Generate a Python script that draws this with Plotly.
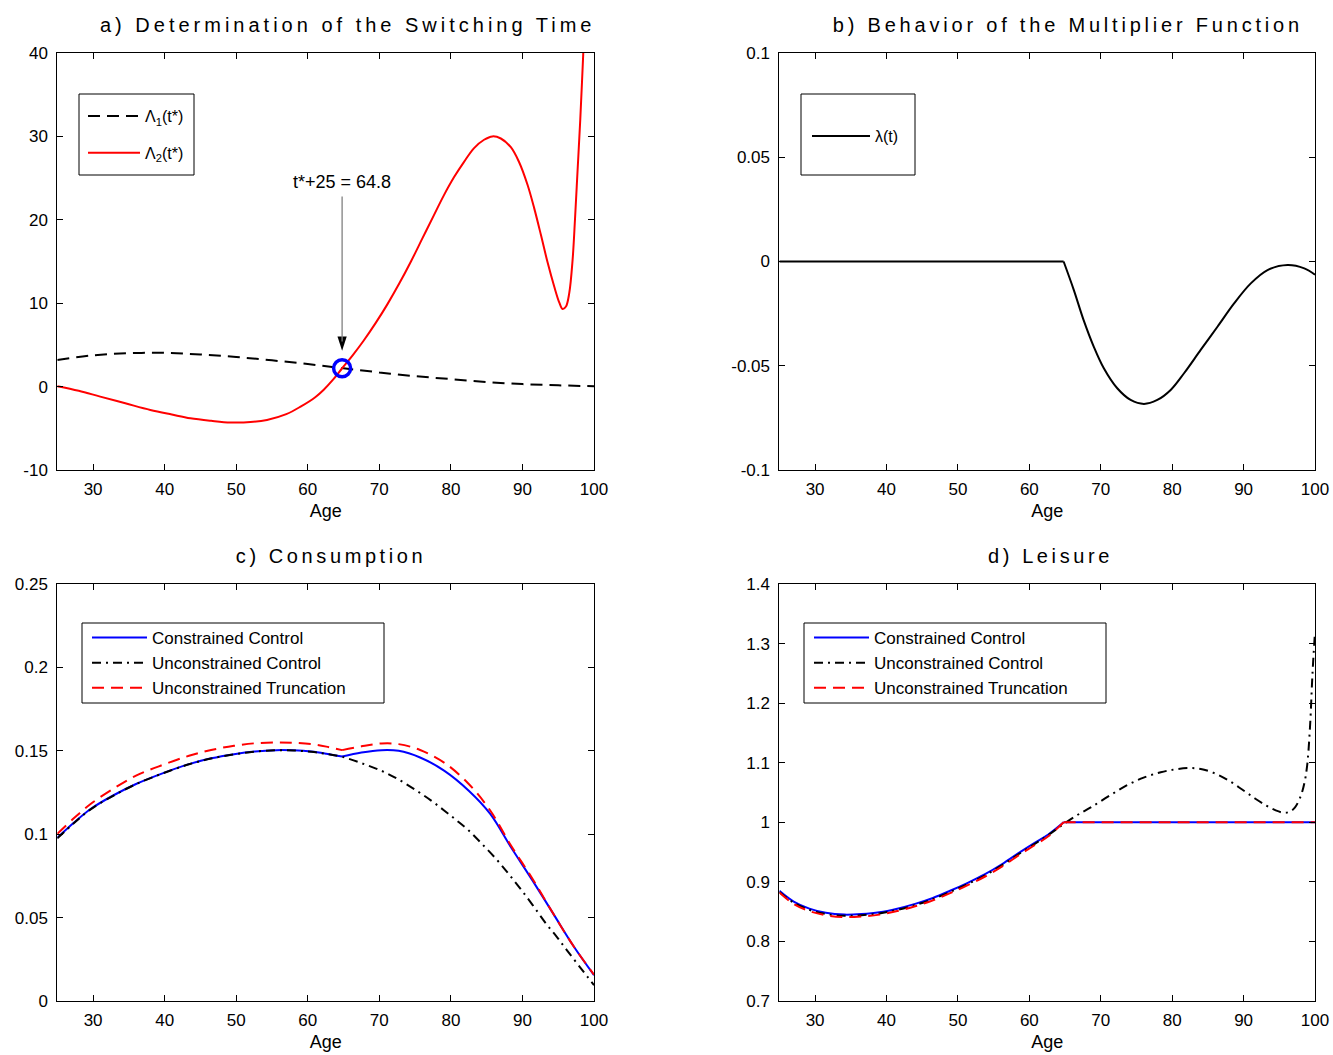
import plotly.graph_objects as go

W, H = 1333, 1055
FONT = "Liberation Sans, Arial, Helvetica, sans-serif"

# ---------------- data ----------------
age_ticks = [30, 40, 50, 60, 70, 80, 90, 100]
switch_age = 64.8
switch_val = 2.2

# a) Determination of the switching time
lam1_age = [25, 30, 35, 40, 45, 50, 55, 60, 65, 70, 75, 80, 85, 90, 95, 100]
lam1_val = [3.2, 3.75, 4.0, 4.05, 3.85, 3.55, 3.15, 2.7, 2.2, 1.7, 1.25, 0.9, 0.55, 0.3, 0.15, 0.05]

lam2_age = [25, 28, 31, 34.5, 38, 41, 43.6, 46.5, 49.2, 52, 54.3, 57, 59, 61, 62.2, 63.5, 64.8,
            66.3, 67.8, 69.5, 71.1, 72.8, 74.4, 76.0, 77.6, 79.0, 80.45, 81.84, 83.24, 84.64, 85.8,
            86.98, 88.38, 89.54, 90.71, 91.64, 92.58, 93.51, 94.44, 95.14, 95.61, 96.08, 96.54,
            97.01, 97.34, 97.71, 98.08, 98.45, 98.8]
lam2_val = [0.05, -0.5, -1.2, -2.0, -2.8, -3.35, -3.8, -4.1, -4.3, -4.25, -4.0, -3.3, -2.4, -1.3, -0.4, 0.8, 2.2,
            3.78, 5.5, 7.64, 9.83, 12.38, 14.97, 17.74, 20.5, 22.9, 25.12, 26.95, 28.6, 29.6, 30.0,
            29.75, 28.7, 26.9, 24.2, 21.4, 18.2, 14.9, 12.0, 10.1, 9.3, 9.6, 11.2,
            15.2, 20.0, 26.0, 32.0, 39.0, 46.0]

# b) Multiplier function
mult_age = [25, 35, 45, 55, 64.8, 66.23, 67.6, 69.03, 70.43, 72.31, 74.18, 76.05, 77.92, 79.79,
            81.66, 83.99, 86.34, 88.67, 91.01, 93.35, 96.16, 98.5, 100]
mult_val = [0, 0, 0, 0, 0, -0.0137, -0.0281, -0.0409, -0.0512, -0.0608, -0.0664, -0.0683, -0.0664,
            -0.0616, -0.0536, -0.0424, -0.0313, -0.0201, -0.0105, -0.0041, -0.0017, -0.0033, -0.0063]

# c) Consumption
cons_age = [25, 27.3, 29.65, 32.8, 36.0, 39.7, 43.4, 46.5, 49.7, 52.6, 55.6, 58, 60.5, 62.6, 64.8,
            67.5, 70.3, 72.7, 75.7, 79.1, 82.5, 85.5, 88.4, 91.4, 94.3, 97.2, 100]
cons_con = [0.0978, 0.1068, 0.1151, 0.1232, 0.1301, 0.1365, 0.1420, 0.1455, 0.1480, 0.1496, 0.1504,
            0.1503, 0.1496, 0.1483, 0.1466, 0.1490, 0.1504, 0.1500, 0.1460, 0.1380, 0.1261, 0.1122,
            0.0922, 0.0723, 0.0524, 0.0325, 0.0155]
cons_trunc = [0.1002, 0.1095, 0.1181, 0.1272, 0.1351, 0.1415, 0.1470, 0.1505, 0.1530, 0.1545, 0.1550,
              0.1548, 0.1540, 0.1525, 0.1504, 0.1527, 0.1544, 0.1540, 0.1505, 0.1428, 0.1301, 0.1142,
              0.0932, 0.0733, 0.0524, 0.0325, 0.0158]
cons_unc_age = [25, 27.3, 29.65, 32.8, 36.0, 39.7, 43.4, 46.5, 49.7, 52.6, 55.6, 58, 60.5, 62.6, 64.8,
                67.5, 70.3, 72.8, 75.2, 77.2, 79.1, 80.8, 82.5, 84.5, 86.5, 88.2, 89.9, 91.6, 93.3,
                94.8, 96.2, 98, 100]
cons_unc = [0.0975, 0.1066, 0.1149, 0.1230, 0.1300, 0.1364, 0.1419, 0.1454, 0.1479, 0.1495, 0.1503,
            0.1502, 0.1494, 0.1481, 0.1464, 0.1426, 0.1380, 0.1325, 0.1261, 0.1203, 0.1141, 0.1083,
            0.1022, 0.0935, 0.0843, 0.0755, 0.0663, 0.0565, 0.0464, 0.0385, 0.0305, 0.0205, 0.0095]

# d) Leisure
leis_age = [25, 27, 29.2, 31.5, 34.1, 36.5, 39.0, 41.5, 44.0, 46.5, 48.9, 51.3, 53.8, 56.2, 58.7,
            60.8, 62.7, 64.8, 70, 80, 90, 100]
leis_con = [0.885, 0.867, 0.855, 0.848, 0.845, 0.846, 0.849, 0.855, 0.863, 0.873, 0.885, 0.898, 0.913,
            0.930, 0.950, 0.966, 0.980, 1.0, 1.0, 1.0, 1.0, 1.0]
leis_trunc = [0.882, 0.863, 0.851, 0.844, 0.841, 0.842, 0.845, 0.851, 0.859, 0.869, 0.881, 0.894, 0.909,
              0.926, 0.946, 0.962, 0.977, 1.0, 1.0, 1.0, 1.0, 1.0]
leis_unc_age = [25, 27, 29.2, 31.5, 34.1, 36.5, 39.0, 41.5, 44.0, 46.5, 48.9, 51.3, 53.8, 56.2, 58.7,
                60.8, 62.7, 64.8, 66.7, 68.6, 71, 73.5, 76, 78.4, 80.5, 82.4, 84, 85.8, 87.8, 89.8,
                91.6, 93.2, 94.5, 95.7, 96.5, 97.2, 98.0, 98.5, 98.9, 99.3, 99.65, 100]
leis_unc = [0.883, 0.865, 0.853, 0.846, 0.843, 0.844, 0.847, 0.853, 0.861, 0.871, 0.883, 0.896, 0.911,
            0.928, 0.948, 0.964, 0.979, 0.997, 1.012, 1.025, 1.043, 1.061, 1.075, 1.084, 1.089, 1.091,
            1.0895, 1.083, 1.071, 1.055, 1.040, 1.028, 1.020, 1.016, 1.018, 1.025, 1.044, 1.065, 1.095,
            1.16, 1.25, 1.32]

titles = ["a) Determination of the Switching Time", "b) Behavior of the Multiplier Function",
          "c) Consumption", "d) Leisure"]
names = ["Constrained Control", "Unconstrained Control", "Unconstrained Truncation"]

# ---------------- figure ----------------
fig = go.Figure()


def split(ages, vals, kinks):
    segs, cx, cy = [], [], []
    for a, v in zip(ages, vals):
        cx.append(a)
        cy.append(v)
        if a in kinks:
            if len(cx) > 1:
                segs.append((cx, cy))
            cx, cy = [a], [v]
    if len(cx) > 1:
        segs.append((cx, cy))
    return segs


def add_series(ages, vals, name, color, dash, xa, ya, legend, kinks=(), width=2):
    for i, (sx, sy) in enumerate(split(ages, vals, kinks)):
        flat = all(abs(v - sy[0]) < 1e-12 for v in sy)
        fig.add_trace(go.Scatter(
            x=sx, y=sy, mode="lines", name=name, legendgroup=name + legend,
            showlegend=(i == 0), legend=legend, hoverinfo="skip",
            line=dict(color=color, dash=dash, width=width,
                      shape="linear" if flat else "spline", smoothing=1.0),
            xaxis=xa, yaxis=ya))


DASH = "12px,7px"
DASHDOT = "9px,5px,2px,5px"

add_series(lam1_age, lam1_val, "Λ<sub>1</sub>(t*)", "black", DASH, "x", "y", "legend")
add_series(lam2_age, lam2_val, "Λ<sub>2</sub>(t*)", "#FF0000", "solid", "x", "y", "legend")
fig.add_trace(go.Scatter(x=[switch_age], y=[switch_val], mode="markers", showlegend=False,
                         hoverinfo="skip",
                         marker=dict(symbol="circle-open", size=17, color="#0000FF",
                                     line=dict(width=3.5, color="#0000FF")),
                         xaxis="x", yaxis="y"))
# arrow head of the switching-time pointer
fig.add_trace(go.Scatter(x=[switch_age], y=[4.3], mode="markers", showlegend=False,
                         hoverinfo="skip",
                         marker=dict(symbol="arrow", angle=180, size=15, color="black",
                                     line=dict(width=0)),
                         xaxis="x", yaxis="y"))

add_series(mult_age, mult_val, "λ(t)", "black", "solid", "x2", "y2", "legend2", kinks=(switch_age,))

add_series(cons_age, cons_con, names[0], "#0000FF", "solid", "x3", "y3", "legend3", kinks=(switch_age,))
add_series(cons_unc_age, cons_unc, names[1], "black", DASHDOT, "x3", "y3", "legend3")
add_series(cons_age, cons_trunc, names[2], "#FF0000", DASH, "x3", "y3", "legend3", kinks=(switch_age,))

add_series(leis_age, leis_con, names[0], "#0000FF", "solid", "x4", "y4", "legend4", kinks=(switch_age,))
add_series(leis_unc_age, leis_unc, names[1], "black", DASHDOT, "x4", "y4", "legend4")
add_series(leis_age, leis_trunc, names[2], "#FF0000", DASH, "x4", "y4", "legend4", kinks=(switch_age,))

xl = [57.3 / W, 594 / W]
xr = [779.4 / W, 1315 / W]
yt = [1 - 470 / H, 1 - 53 / H]
yb = [1 - 1001 / H, 1 - 584 / H]


def ax_style(**kw):
    d = dict(showline=True, linecolor="black", linewidth=1, mirror="ticks", ticks="inside",
             ticklen=6, tickwidth=1, tickcolor="black", showgrid=False, zeroline=False,
             automargin=False, fixedrange=True,
             tickfont=dict(size=17, color="black", family=FONT))
    d.update(kw)
    return d


def xax(domain, anchor):
    return ax_style(domain=domain, anchor=anchor, range=[25, 100], tickvals=age_ticks,
                    ticktext=[str(t) for t in age_ticks], ticklabelstandoff=4,
                    title=dict(text="Age", font=dict(size=18, color="black", family=FONT), standoff=5))


y_a_ticks = [-10, 0, 10, 20, 30, 40]
y_b_ticks = [-0.1, -0.05, 0, 0.05, 0.1]
y_b_text = ["-0.1", "-0.05", "0", "0.05", "0.1"]
y_c_ticks = [0, 0.05, 0.1, 0.15, 0.2, 0.25]
y_c_text = ["0", "0.05", "0.1", "0.15", "0.2", "0.25"]
y_d_ticks = [0.7, 0.8, 0.9, 1.0, 1.1, 1.2, 1.3, 1.4]
y_d_text = ["0.7", "0.8", "0.9", "1", "1.1", "1.2", "1.3", "1.4"]

fig.update_layout(
    width=W, height=H, autosize=False,
    margin=dict(l=0, r=0, t=0, b=0, pad=0, autoexpand=False),
    paper_bgcolor="white", plot_bgcolor="white",
    font=dict(family=FONT, color="black"),
    xaxis=xax(xl, "y"), xaxis2=xax(xr, "y2"), xaxis3=xax(xl, "y3"), xaxis4=xax(xr, "y4"),
    yaxis=ax_style(domain=yt, anchor="x", range=[-10, 40], tickvals=y_a_ticks,
                   ticktext=[str(t) for t in y_a_ticks], ticklabelstandoff=5),
    yaxis2=ax_style(domain=yt, anchor="x2", range=[-0.1, 0.1], tickvals=y_b_ticks,
                    ticktext=y_b_text, ticklabelstandoff=5),
    yaxis3=ax_style(domain=yb, anchor="x3", range=[0, 0.25], tickvals=y_c_ticks,
                    ticktext=y_c_text, ticklabelstandoff=5),
    yaxis4=ax_style(domain=yb, anchor="x4", range=[0.7, 1.4], tickvals=y_d_ticks,
                    ticktext=y_d_text, ticklabelstandoff=5),
)


# legends (plotly legends, placed inside MATLAB-like boxes)
def leg(xpx, ytop, itemw, size, gap=0):
    return dict(x=xpx / W, y=1 - ytop / H, xanchor="left", yanchor="top", bgcolor="rgba(0,0,0,0)",
                borderwidth=0, itemwidth=itemw, tracegroupgap=gap,
                font=dict(size=size, color="black", family=FONT))


fig.update_layout(
    legend=leg(83, 99, 52, 16, gap=13),
    legend2=leg(807, 119, 58, 16),
    legend3=leg(87, 620, 55, 17),
    legend4=leg(809, 620, 55, 17),
)

boxes = [(79, 94, 194, 175), (801, 94, 915, 175), (82, 623, 384, 703), (804, 623, 1106, 703)]
for (x0, y0, x1, y1) in boxes:
    fig.add_shape(type="rect", xref="paper", yref="paper", x0=x0 / W, x1=x1 / W,
                  y0=1 - y0 / H, y1=1 - y1 / H, line=dict(color="black", width=1),
                  fillcolor="white", layer="above")

# titles
title_pos = [(348, 25), (1068, 25), (331, 556), (1050, 556)]
title_spacing = ["4.0px", "3.8px", "3.6px", "3.6px"]
for t, (cx, cy) in zip(titles, title_pos):
    fig.add_annotation(text=t, xref="paper", yref="paper", x=cx / W, y=1 - cy / H,
                       xanchor="center", yanchor="middle", showarrow=False,
                       font=dict(size=20, color="black", family=FONT))

# switching time annotation
fig.add_annotation(text="t*+25 = 64.8", x=switch_age, y=24.5, xref="x", yref="y",
                   showarrow=False, xanchor="center", yanchor="middle",
                   font=dict(size=18, color="black", family=FONT))
fig.add_shape(type="line", xref="x", yref="y", x0=switch_age, x1=switch_age, y0=22.8, y1=5.4,
              line=dict(color="#808080", width=1.3))

post = """
document.body.style.margin='0';
document.body.style.overflow='hidden';
var gd=document.getElementById('{plot_id}');
var sp={'a':'%s','b':'%s','c':'%s','d':'%s'};
gd.querySelectorAll('.annotation-text').forEach(function(t){
  var s=t.textContent;
  if(/^[a-d]\\) /.test(s)){t.style.letterSpacing=sp[s.charAt(0)];}
});
gd.querySelectorAll('.legendtext').forEach(function(t){
  if(/Control|Truncation/.test(t.textContent)){t.style.letterSpacing='1px';}
});
""" % tuple(title_spacing)

fig.write_html("out.html", post_script=post, config={"displayModeBar": False})
